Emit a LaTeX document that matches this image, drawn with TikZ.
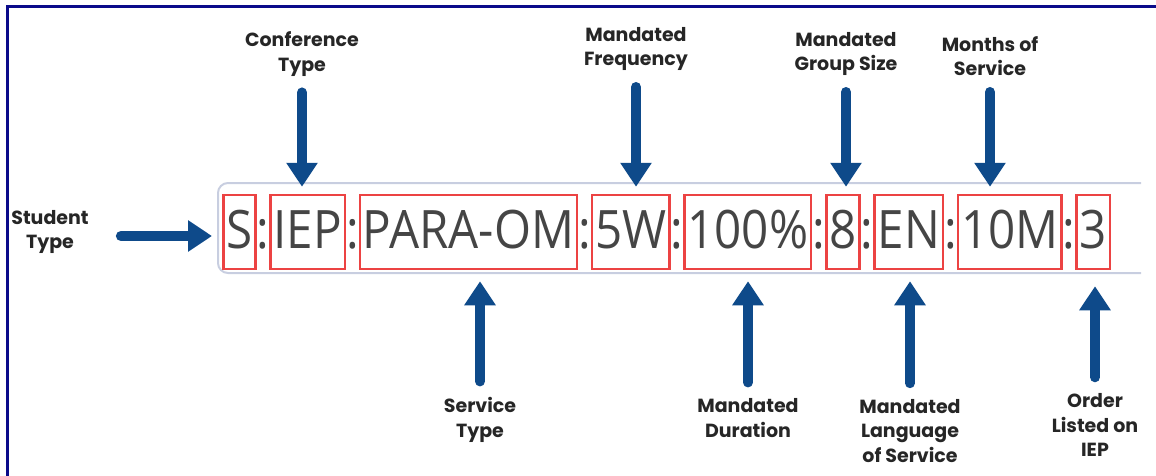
\documentclass[tikz,border=0pt]{standalone}
\usepackage{fontspec}
\usepackage{tikz}
\usetikzlibrary{positioning,arrows.meta}

\newfontfamily\codefont[FakeStretch=0.897]{Open Sans}
\newfontfamily\labelfont{Poppins}
\definecolor{navyframe}{HTML}{0B0B8A}
\definecolor{arrowblue}{HTML}{0E4A8A}
\definecolor{boxred}{HTML}{EC4343}
\definecolor{stripgray}{HTML}{C8CEE0}
\definecolor{codegray}{HTML}{454545}

\tikzset{
  codebox/.style={draw=boxred, line width=2.5pt, inner xsep=3pt, inner ysep=13pt,
    text height=40pt, text depth=8pt, text=codegray,
    font=\codefont\fontsize{53}{60}\selectfont},
  colon/.style={codebox, draw=none, inner xsep=0pt, outer sep=0pt},
  lbl/.style={align=center, inner sep=2pt, text=black!85,
    font=\labelfont\bfseries\fontsize{19}{24.5}\selectfont},
  bluearrow/.style={draw=arrowblue, line width=10pt, line cap=round,
    -{Triangle[width=30pt,length=24pt]}},
}

\begin{document}
\begin{tikzpicture}[x=1pt,y=-1pt]
    \useasboundingbox (0,0) rectangle (1156,476);

    % 枠
    \draw[navyframe, line width=3pt] (7,476) -- (7,6.5) -- (1156,6.5);

    % 帯
    \draw[stripgray, line width=2pt, rounded corners=10pt]
        (1141,183) -- (218,183) -- (218,273) -- (1141,273);

    % コードの各部分
    \node[codebox, anchor=west] (s) at (222,232) {S};
    \node[colon, right=0pt of s] (c1) {:};
    \node[codebox, right=0pt of c1] (iep) {IEP};
    \node[colon, right=0pt of iep] (c2) {:};
    \node[codebox, right=0pt of c2] (para) {PARA-OM};
    \node[colon, right=0pt of para] (c3) {:};
    \node[codebox, right=0pt of c3] (freq) {5W};
    \node[colon, right=0pt of freq] (c4) {:};
    \node[codebox, right=0pt of c4] (dur) {100\%};
    \node[colon, right=0pt of dur] (c5) {:};
    \node[codebox, right=0pt of c5] (grp) {8};
    \node[colon, right=0pt of grp] (c6) {:};
    \node[codebox, right=0pt of c6] (lang) {EN};
    \node[colon, right=0pt of lang] (c7) {:};
    \node[codebox, right=0pt of c7] (mon) {10M};
    \node[colon, right=0pt of mon] (c8) {:};
    \node[codebox, right=0pt of c8] (ord) {3};

    % ラベル
    \node[lbl] (studlbl) at (50,232) {Student\\Type};
    \node[lbl] (conflbl) at (302,54) {Conference\\Type};
    \node[lbl] (freqlbl) at (636,49) {Mandated\\Frequency};
    \node[lbl] (grplbl) at (846,54) {Mandated\\Group Size};
    \node[lbl] (monlbl) at (990,56) {Months of\\Service};
    \node[lbl] (servlbl) at (480,420) {Service\\Type};
    \node[lbl] (durlbl) at (748,418) {Mandated\\Duration};
    \node[lbl] (langlbl) at (910,431) {Mandated\\Language\\of Service};
    \node[lbl] (ordlbl) at (1095,425) {Order\\Listed on\\IEP};

    % 矢印
    \draw[bluearrow, shorten >=10pt] ([xshift=30pt,yshift=-4pt]studlbl.east) -- ([yshift=-4pt]s.west);
    \draw[bluearrow, shorten >=7pt] ([yshift=-14pt]conflbl.south) -- (conflbl.south |- iep.north);
    \draw[bluearrow, shorten >=7pt] ([yshift=-14pt]freqlbl.south) -- (freqlbl.south |- freq.north);
    \draw[bluearrow, shorten >=7pt] ([yshift=-14pt]grplbl.south) -- (grplbl.south |- grp.north);
    \draw[bluearrow, shorten >=7pt] ([yshift=-14pt]monlbl.south) -- (monlbl.south |- mon.north);
    \draw[bluearrow, shorten >=11pt] ([yshift=14pt]servlbl.north) -- (servlbl.north |- para.south);
    \draw[bluearrow, shorten >=11pt] ([yshift=14pt]durlbl.north) -- (durlbl.north |- dur.south);
    \draw[bluearrow, shorten >=11pt] ([yshift=14pt]langlbl.north) -- (langlbl.north |- lang.south);
    \draw[bluearrow, shorten >=16pt] ([yshift=14pt]ordlbl.north) -- (ordlbl.north |- ord.south);

\end{tikzpicture}
\end{document}
